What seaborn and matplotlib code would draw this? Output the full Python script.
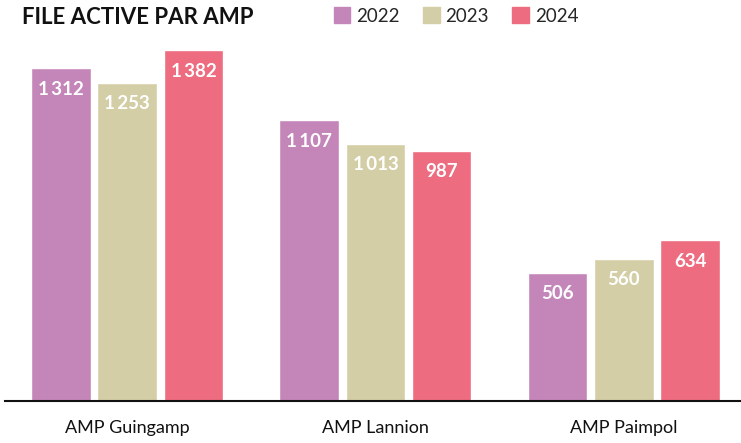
import pandas as pd
import matplotlib.pyplot as plt
import seaborn as sns

# Data
amps = ["AMP Guingamp", "AMP Lannion", "AMP Paimpol"]
years = ["2022", "2023", "2024"]
v2022 = [1312, 1107, 506]
v2023 = [1253, 1013, 560]
v2024 = [1382, 987, 634]
colors = ["#C486B9", "#D3CEA6", "#EE6C7F"]

rows = []
for year, vals in zip(years, [v2022, v2023, v2024]):
    for amp, v in zip(amps, vals):
        rows.append({"amp": amp, "year": year, "value": v})
df = pd.DataFrame(rows)

sns.set_theme(style="white")
plt.rcParams["font.family"] = ["Lato", "DejaVu Sans"]

fig = plt.figure(figsize=(7.41, 4.43), dpi=100)
ax = fig.add_axes([5 / 741, 42 / 443, 736 / 741, 401 / 443])

sns.barplot(data=df, x="amp", y="value", hue="year", palette=colors,
            gap=0.1, width=0.8, saturation=1, ax=ax, legend=False)

ax.set_xlim(-0.492, 2.472)
ax.set_ylim(0, 1580)
ax.set_xlabel("")
ax.set_ylabel("")
ax.set_yticks([])
ax.tick_params(axis="x", length=0, labelsize=13, pad=14, colors="#111111")
for s in ["top", "right", "left"]:
    ax.spines[s].set_visible(False)
ax.spines["bottom"].set_color("#111111")
ax.spines["bottom"].set_linewidth(1.5)

# value labels inside top of bars
for p in ax.patches:
    h = p.get_height()
    if h <= 0:
        continue
    lab = f"{int(h):,}".replace(",", "\u2009")
    ax.annotate(lab, (p.get_x() + p.get_width() / 2, h),
                xytext=(0, -9), textcoords="offset points",
                ha="center", va="top", color="white",
                fontsize=13.5, fontweight="bold")

fig.text(22 / 741, 1 - 18 / 443, "FILE ACTIVE PAR AMP", fontsize=16,
         fontweight="bold", va="center", ha="left", color="#111111")

handles = [plt.Rectangle((0, 0), 1, 1, color=c) for c in colors]
fig.legend(handles, years, loc="center left", bbox_to_anchor=(326 / 741, 1 - 16 / 443),
           ncol=3, frameon=False, fontsize=13.5, handlelength=0.9, handleheight=0.9,
           handletextpad=0.3, columnspacing=1.25, borderaxespad=0)

fig.savefig("out.png", dpi=100)
